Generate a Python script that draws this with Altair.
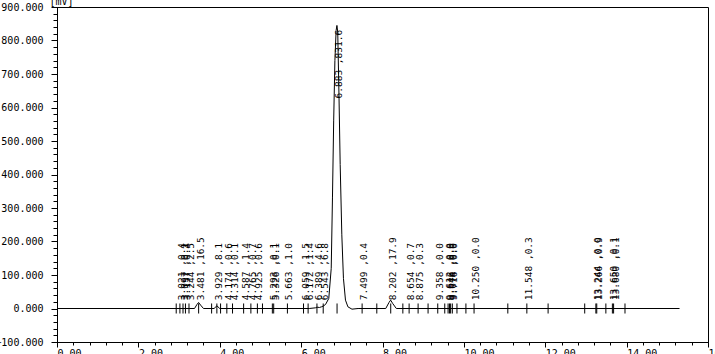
import altair as alt
import pandas as pd

# chromatogram trace (time in min, signal in mV)
trace_t = [0.00, 2.90, 3.38, 3.44, 3.48, 3.53, 3.60, 3.86, 3.93, 4.00, 6.20, 6.35, 6.39, 6.45,
           6.50, 6.54, 6.60, 6.68, 6.74, 6.77, 6.80, 6.83, 6.86, 6.88, 6.90, 6.93, 6.96, 7.00,
           7.04, 7.09, 7.15, 7.25, 7.40, 8.08, 8.16, 8.20, 8.25, 8.34, 15.30]
trace_mv = [0, 0, 0, 12, 18, 10, 0, 0, 8, 0, 0, 2, 4, 3,
            5, 7, 12, 30, 120, 330, 560, 740, 830, 845, 825, 640, 430, 220,
            90, 25, 5, -2, 0, 0, 18, 25, 15, 0, 0]

# peak labels
peak_rt = [3.021, 3.097, 3.157, 3.244, 3.481, 3.929, 4.174, 4.314, 4.587, 4.765, 4.925,
           5.293, 5.326, 5.663, 6.059, 6.172, 6.389, 6.543, 6.883, 7.499, 8.202, 8.654,
           8.875, 9.358, 9.612, 9.646, 9.674, 9.716, 10.250, 11.548, 13.244, 13.266,
           13.650, 13.680]
peak_val = ["0.4", "0.1", "0.4", "2.5", "16.5", "8.1", "0.6", "0.1", "1.4", "0.7", "0.6",
            "0.1", "0.1", "1.0", "1.5", "1.4", "4.6", "6.8", "831.6", "0.4", "17.9", "0.7",
            "0.3", "0.0", "0.0", "0.0", "0.0", "0.0", "0.0", "0.3", "0.0", "0.9",
            "0.1", "0.1"]
label_start = [25] * len(peak_rt)
label_start[18] = 627

# integration marks without labels
extra_ticks = [2.93, 3.80, 4.02, 5.05, 7.86, 8.50, 9.12, 9.53, 9.83, 10.05, 11.08,
               12.07, 12.97, 13.49, 13.96]

trace = pd.DataFrame({"t": trace_t, "mv": trace_mv})
labels = pd.DataFrame({
    "t": peak_rt,
    "start": label_start,
    "text": [f"{r:.3f} ,{v}" for r, v in zip(peak_rt, peak_val)],
})
tick_t = peak_rt + extra_ticks
ticks = pd.DataFrame({"t": tick_t, "lo": [-15] * len(tick_t), "hi": [15] * len(tick_t)})

FONT = "DejaVu Sans Mono"
xs = alt.Scale(domain=[0, 16], nice=False, zero=False)
ys = alt.Scale(domain=[-100, 900], nice=False, zero=False)

x_major = alt.Axis(values=[0, 2, 4, 6, 8, 10, 12, 14, 16], format=".2f", orient="bottom",
                   tickSize=5, labelAlign="left", labelBaseline="top",
                   labelPadding=1, grid=False, title=None, labelFont=FONT, labelFontSize=10,
                   labelColor="black", tickColor="black", domainColor="black",
                   labelOverlap=False, labelBound=False, labelFlush=False)
x_minor = alt.Axis(values=[round(0.4 * k, 1) for k in range(41)], orient="bottom", labels=False,
                   tickSize=3, grid=False, title=None, tickColor="black", domainColor="black")
y_major = alt.Axis(values=list(range(-100, 901, 100)), format=".3f", orient="left",
                   tickSize=6, labelPadding=8, grid=False, title="[mV]", titleAngle=0,
                   titleX=-8, titleY=-1, titleAlign="left", titleBaseline="bottom",
                   titleFont=FONT, titleFontSize=10, titleFontWeight="normal",
                   titleColor="black", labelFont=FONT, labelFontSize=10, labelColor="black",
                   tickColor="black", domainColor="black", labelOverlap=False,
                   labelFlush=False, labelBound=False)
y_minor = alt.Axis(values=list(range(-100, 901, 20)), orient="left", labels=False,
                   tickSize=4, grid=False, title=None, tickColor="black", domainColor="black")

line = alt.Chart(trace).mark_line(color="black", strokeWidth=1).encode(
    x=alt.X("t:Q", scale=xs, axis=x_major),
    y=alt.Y("mv:Q", scale=ys, axis=y_major),
)

tick_layer = alt.Chart(ticks).mark_rule(color="black", strokeWidth=1).encode(
    x=alt.X("t:Q", scale=xs, axis=x_minor),
    y=alt.Y("lo:Q", scale=ys, axis=y_minor),
    y2="hi:Q",
)

text_layer = alt.Chart(labels).mark_text(
    angle=270, align="left", baseline="middle", font=FONT, fontSize=9.5, dy=2, color="black"
).encode(
    x=alt.X("t:Q", scale=xs, axis=None),
    y=alt.Y("start:Q", scale=ys, axis=None),
    text="text:N",
)

chart = alt.layer(line, tick_layer, text_layer).resolve_axis(
    x="independent", y="independent"
).properties(
    width=651, height=335,
    autosize=alt.AutoSizeParams(type="none"),
    padding={"left": 57, "top": 7, "right": 7, "bottom": 12},
    background="white",
).configure_view(stroke="black", strokeWidth=1)

chart.save("out.html", embed_options={"renderer": "svg", "actions": False})
